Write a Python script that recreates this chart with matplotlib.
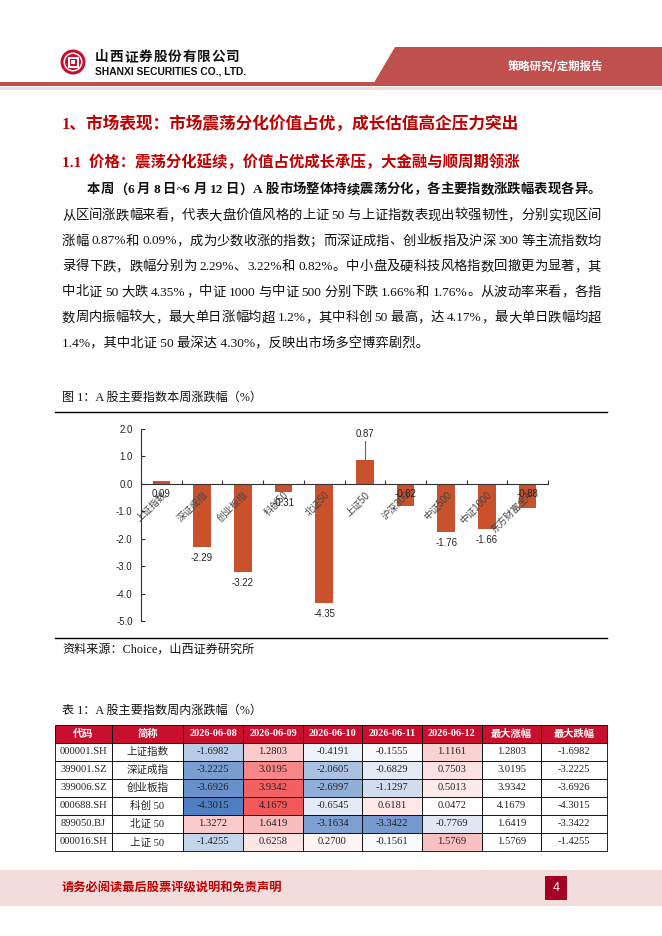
import re
import numpy as np
import matplotlib
matplotlib.use('Agg')
import matplotlib.pyplot as plt
from matplotlib.patches import Rectangle, Polygon, Circle
from matplotlib.colors import LinearSegmentedColormap, TwoSlopeNorm

# ---- data ----
categories = ['上证指数', '深证成指', '创业板指', '科创50', '北证50',
              '上证50', '沪深300', '中证500', '中证1000', '东方财富全A']
weekly_chg = [0.09, -2.29, -3.22, -0.31, -4.35, 0.87, -0.82, -1.76, -1.66, -0.88]

codes = ['000001.SH', '399001.SZ', '399006.SZ', '000688.SH', '899050.BJ', '000016.SH']
names = ['上证指数', '深证成指', '创业板指', '科创 50', '北证 50', '上证 50']
dates = ['2026-06-08', '2026-06-09', '2026-06-10', '2026-06-11', '2026-06-12']
d0608 = [-1.6982, -3.2225, -3.6926, -4.3015, 1.3272, -1.4255]
d0609 = [1.2803, 3.0195, 3.9342, 4.1679, 1.6419, 0.6258]
d0610 = [-0.4191, -2.0605, -2.6997, -0.6545, -3.1634, 0.2700]
d0611 = [-0.1555, -0.6829, -1.1297, 0.6181, -3.3422, -0.1561]
d0612 = [1.1161, 0.7503, 0.5013, 0.0472, -0.7769, 1.5769]

body_lines = [
    '本周（6 月 8 日~6 月 12 日）A 股市场整体持续震荡分化，各主要指数涨跌幅表现各异。',
    '从区间涨跌幅来看，代表大盘价值风格的上证 50 与上证指数表现出较强韧性，分别实现区间',
    '涨幅 0.87%和 0.09%，成为少数收涨的指数；而深证成指、创业板指及沪深 300 等主流指数均',
    '录得下跌，跌幅分别为 2.29%、3.22%和 0.82%。中小盘及硬科技风格指数回撤更为显著，其',
    '中北证 50 大跌 4.35%，中证 1000 与中证 500 分别下跌 1.66%和 1.76%。从波动率来看，各指',
    '数周内振幅较大，最大单日涨幅均超 1.2%，其中科创 50 最高，达 4.17%，最大单日跌幅均超',
    '1.4%，其中北证 50 最深达 4.30%，反映出市场多空博弈剧烈。',
]

W, H = 662, 936
SERIF = ['Liberation Serif', 'Noto Sans CJK SC']
SANS = ['Liberation Sans', 'Noto Sans CJK SC']
CJK = ['Noto Sans CJK SC', 'DejaVu Sans']
RED = '#C00000'
plt.rcParams['font.family'] = SANS

fig = plt.figure(figsize=(W / 100, H / 100), dpi=100)
bg = fig.add_axes([0, 0, 1, 1])
bg.set_xlim(0, W)
bg.set_ylim(H, 0)
bg.axis('off')
renderer = fig.canvas.get_renderer()


def justify(s, x0, x1, y, **kw):
    # spread tokens evenly between x0 and x1
    toks = re.findall(r'[A-Za-z0-9.%~\-]+| |.', s)
    widths = []
    for t in toks:
        if t == ' ':
            widths.append(3.0)
            continue
        tt = bg.text(0, 0, t, **kw)
        widths.append(tt.get_window_extent(renderer).width)
        tt.remove()
    gap = (x1 - x0 - sum(widths)) / max(len(toks) - 1, 1)
    x = x0
    for t, w in zip(toks, widths):
        if t != ' ':
            bg.text(x, y, t, ha='left', va='center', **kw)
        x += w + gap


# ---- header ----
bg.add_patch(Polygon([(395, 47), (W, 47), (W, 86), (372, 86)], closed=True,
                     color='#C0504D', lw=0))
bg.add_patch(Rectangle((0, 82), W, 4, color='#C0504D', lw=0))
bg.add_patch(Rectangle((0, 87), W, 3, color='#F2DCDB', lw=0))
bg.add_patch(Circle((73, 62), 12.5, color='#C8102E', lw=0))
bg.add_patch(Circle((73, 62), 9.5, color='white', lw=0))
bg.add_patch(Circle((73, 62), 8, color='#C8102E', lw=0))
bg.add_patch(Rectangle((67.5, 56.5), 11, 11, color='white', lw=0))
bg.add_patch(Rectangle((69.5, 58.5), 7, 7, color='#C8102E', lw=0))
bg.add_patch(Rectangle((71.3, 60.3), 3.4, 3.4, color='white', lw=0))
justify('山西证券股份有限公司', 95, 240, 57, family=CJK, fontsize=9.8,
        fontweight='bold', color='#111111')
bg.text(95, 72, 'SHANXI SECURITIES CO., LTD.', family='Liberation Sans',
        fontsize=7.4, fontweight='bold', color='#111111', va='center')
bg.text(508, 67, '策略研究/定期报告', family=CJK, fontsize=8.2,
        fontweight='bold', color='white', va='center')

# ---- titles and body ----
bg.text(62, 125, '1、市场表现：市场震荡分化价值占优，成长估值高企压力突出',
        family=SERIF, fontsize=12, fontweight='bold', color=RED, va='center')
bg.text(62, 162, '1.1  价格：震荡分化延续，价值占优成长承压，大金融与顺周期领涨',
        family=SERIF, fontsize=11.1, fontweight='bold', color=RED, va='center')

line_y = [190, 216, 241.5, 267, 292.5, 318, 343.5]
for k, (s, y) in enumerate(zip(body_lines, line_y)):
    kw = dict(family=SERIF, fontsize=9.6, color='#111111')
    if k == 0:
        justify(s, 87, 601, y, fontweight='bold', **kw)
    elif k < len(body_lines) - 1:
        justify(s, 62, 601, y, **kw)
    else:
        bg.text(62, y, s, va='center', **kw)

# ---- figure 1 ----
bg.text(62, 398, '图 1：A 股主要指数本周涨跌幅（%）', family=SERIF,
        fontsize=8.7, va='center', color='#111111')
bg.plot([55, 607], [412, 412], color='black', lw=1)
bg.plot([55, 607], [638, 638], color='black', lw=1)
bg.text(62, 650, '资料来源：Choice，山西证券研究所', family=SERIF,
        fontsize=8.7, va='center', color='#111111')

ax = fig.add_axes([141 / W, 1 - 621 / H, (548 - 141) / W, (621 - 429) / H])
ax.set_facecolor('none')
ax.set_axisbelow(False)  # category labels sit on top of the bars
# spine position first: moving it resets the tick objects
for sp in ['top', 'right']:
    ax.spines[sp].set_visible(False)
ax.spines['bottom'].set_position(('data', 0))
for sp in ['left', 'bottom']:
    ax.spines[sp].set_color('#333333')
    ax.spines[sp].set_linewidth(0.8)

x = np.arange(len(categories))
ax.bar(x, weekly_chg, width=0.43, color='#C9522C', zorder=2)
ax.set_xlim(-0.5, len(categories) - 0.5)
ax.set_ylim(-5, 2)
yt = np.arange(-5, 2.1, 1.0)
ax.set_yticks(yt)
ax.set_yticklabels(['%.1f' % t for t in yt])
ax.set_xticks(x)
ax.set_xticks(np.arange(-0.5, len(categories)), minor=True)
ax.tick_params(axis='x', which='major', length=0, pad=4)
ax.tick_params(axis='x', which='minor', direction='in', length=3, width=0.8,
               color='#333333')
ax.tick_params(axis='y', direction='in', length=3, width=0.8, color='#333333',
               pad=6)
ax.set_xticklabels(categories, rotation=45, ha='right', va='top',
                   rotation_mode='anchor')
for lab in ax.get_xticklabels() + ax.get_yticklabels():
    lab.set_fontfamily(SANS)
    lab.set_fontsize(6.9)
for lab in ax.get_xticklabels():
    lab.set_color('#444444')
for lab in ax.get_yticklabels():
    lab.set_color('#222222')

for i, v in enumerate(weekly_chg):
    if v > 0.5:
        ax.plot([i, i], [v, 1.55], color='#666666', lw=0.8, zorder=3)
        ly = 1.8
    elif v < -1 or -0.5 < v < 0:
        ly = v - 0.4
    else:
        ly = -0.38
    ax.text(i, ly, '%.2f' % v, ha='center', va='center',
            family='Liberation Sans', fontsize=6.9, color='#222222', zorder=4)

# ---- table 1 ----
bg.text(62, 711, '表 1：A 股主要指数周内涨跌幅（%）', family=SERIF,
        fontsize=8.7, va='center', color='#111111')
col_x = [55, 112, 183, 243, 303, 362, 422, 482, 541, 607]
row_y = [725, 743, 761, 779, 797, 815, 833, 851]
daily = [d0608, d0609, d0610, d0611, d0612]
all_vals = [v for col in daily for v in col]
cmap = LinearSegmentedColormap.from_list('rwb', ['#4F7EC2', '#FFFFFF', '#F2585A'])
norm = TwoSlopeNorm(vmin=min(all_vals), vcenter=0, vmax=max(all_vals))

header = ['代码', '简称'] + dates + ['最大涨幅', '最大跌幅']
for j, h in enumerate(header):
    bg.add_patch(Rectangle((col_x[j], row_y[0]), col_x[j + 1] - col_x[j],
                           row_y[1] - row_y[0], facecolor='#C8102E',
                           edgecolor='black', lw=0.6))
    bg.text((col_x[j] + col_x[j + 1]) / 2, (row_y[0] + row_y[1]) / 2, h,
            ha='center', va='center', family=SERIF, fontsize=7.4,
            fontweight='bold', color='white')

for r in range(len(codes)):
    vals = [col[r] for col in daily]
    cells = [codes[r], names[r]] + ['%.4f' % v for v in vals] + \
            ['%.4f' % max(vals), '%.4f' % min(vals)]
    for j, c in enumerate(cells):
        fc = 'white'
        if 2 <= j < 2 + len(dates):
            fc = cmap(norm(vals[j - 2]))
        bg.add_patch(Rectangle((col_x[j], row_y[r + 1]), col_x[j + 1] - col_x[j],
                               row_y[r + 2] - row_y[r + 1], facecolor=fc,
                               edgecolor='black', lw=0.6))
        bg.text((col_x[j] + col_x[j + 1]) / 2, (row_y[r + 1] + row_y[r + 2]) / 2, c,
                ha='center', va='center', family=SERIF, fontsize=7.6,
                color='#222222')

# ---- footer ----
bg.add_patch(Rectangle((0, 870), W, 36, color='#F2DCDC', lw=0))
bg.text(62, 888, '请务必阅读最后股票评级说明和免责声明', family=CJK, fontsize=8.8,
        fontweight='bold', color=RED, va='center')
bg.add_patch(Rectangle((545, 876), 22, 24, color='#A50021', lw=0))
bg.text(556, 888, '4', family='Liberation Sans', fontsize=9, color='white',
        ha='center', va='center')

fig.savefig('out.png', dpi=100)
